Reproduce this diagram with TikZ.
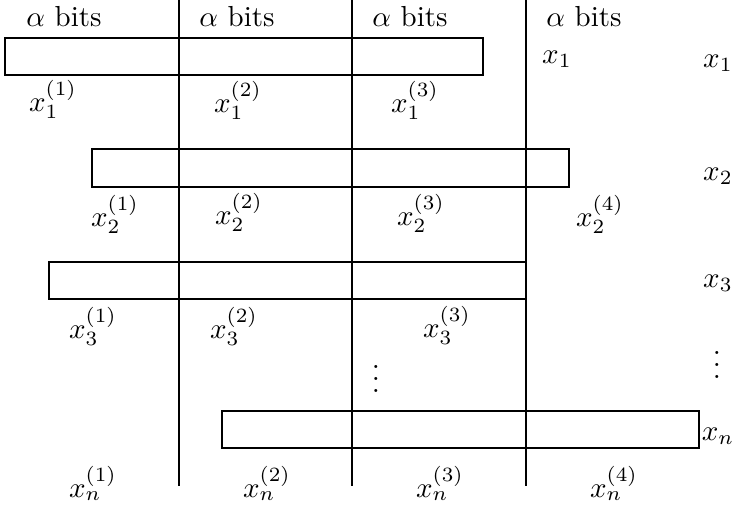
\documentclass[tikz,border=0pt]{standalone}
\usepackage{tikz}
\usetikzlibrary{positioning}
\newcommand{\coldots}{\vbox{\baselineskip4pt\lineskiplimit0pt\hbox{.}\hbox{.}\hbox{.}}}

\begin{document}
\begin{tikzpicture}[
      x=0.345pt, y=-0.345pt,
      word/.style={draw=black, line width=0.5pt},
      sep/.style={draw=black, line width=0.5pt},
      lab/.style={inner sep=0pt, anchor=base}
    ]
    \useasboundingbox (0,0) rectangle (736,509);
    % column separators
    \draw[sep] (179,0) -- (179,486);
    \draw[sep] (352,0) -- (352,486);
    \draw[sep] (526,0) -- (526,486);
    % headers
    \node[lab] (hd1) at (64,26) {$\alpha$ bits};
    \node[lab] (hd2) at (237,26) {$\alpha$ bits};
    \node[lab] (hd3) at (410,26) {$\alpha$ bits};
    \node[lab] (hd4) at (584,26) {$\alpha$ bits};
    % first word
    \draw[word] (5,38) rectangle (483,75);
    \node[lab] (xa) at (557,63) {$x_1$};
    \node[lab] (na) at (718,67) {$x_1$};
    \node[lab] (xa1) at (53,111) {$x_1^{(1)}$};
    \node[lab] (xa2) at (238,112) {$x_1^{(2)}$};
    \node[lab] (xa3) at (415,112) {$x_1^{(3)}$};
    % second word
    \draw[word] (92,149) rectangle (569,187);
    \node[lab] (nb) at (718,180) {$x_2$};
    \node[lab] (xb1) at (115,226) {$x_2^{(1)}$};
    \node[lab] (xb2) at (239,224) {$x_2^{(2)}$};
    \node[lab] (xb3) at (421,225) {$x_2^{(3)}$};
    \node[lab] (xb4) at (600,226) {$x_2^{(4)}$};
    % third word
    \draw[word] (49,262) rectangle (526,299);
    \node[lab] (nc) at (718,287) {$x_3$};
    \node[lab] (xc1) at (93,338) {$x_3^{(1)}$};
    \node[lab] (xc2) at (234,338) {$x_3^{(2)}$};
    \node[lab] (xc3) at (447,337) {$x_3^{(3)}$};
    % dots
    \node[lab] (dm) at (376,392) {\coldots};
    \node[lab] (dr) at (717,378) {\coldots};
    % last word
    \draw[word] (222,411) rectangle (699,448);
    \node[lab] (nn) at (718,440) {$x_n$};
    \node[lab] (xn1) at (93,497) {$x_n^{(1)}$};
    \node[lab] (xn2) at (267,497) {$x_n^{(2)}$};
    \node[lab] (xn3) at (440,497) {$x_n^{(3)}$};
    \node[lab] (xn4) at (614,497) {$x_n^{(4)}$};
  \end{tikzpicture}
\end{document}
